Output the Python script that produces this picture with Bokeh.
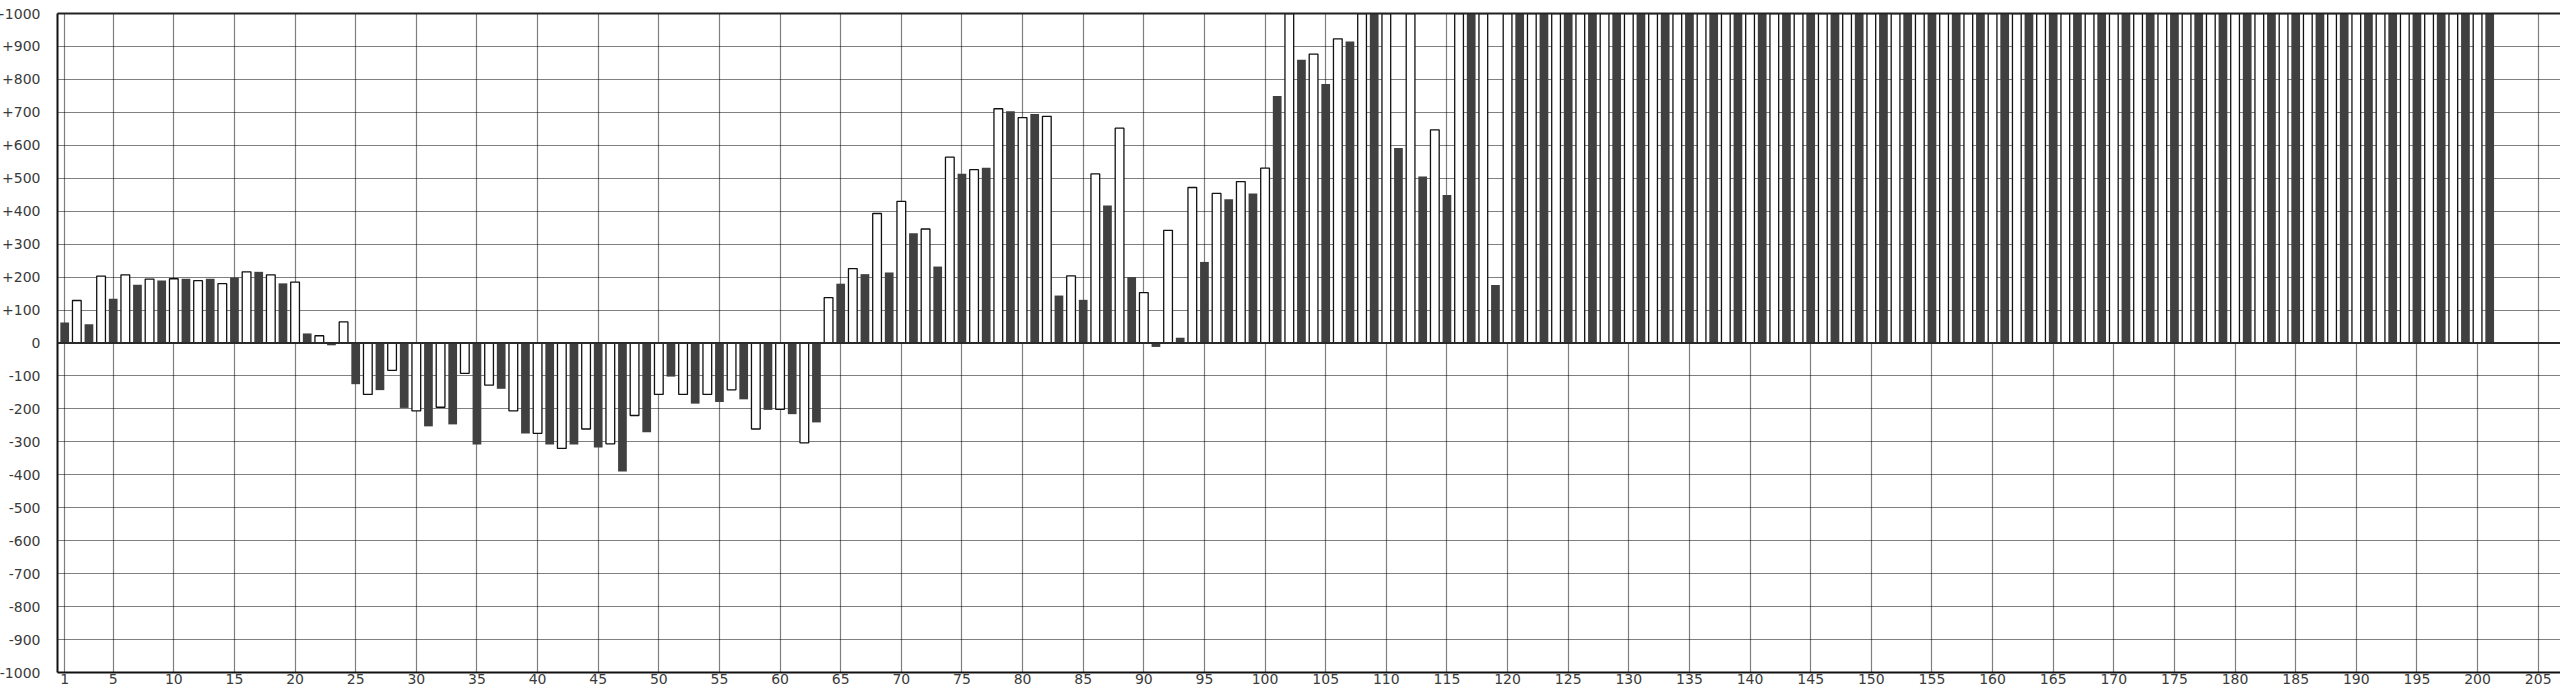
from bokeh.plotting import figure
from bokeh.models import FixedTicker, LinearAxis, Span, Range1d
from bokeh.embed import file_html
from bokeh.resources import INLINE

# dark bars sit on the odd positions 1, 3, ..., 201
dark_x = list(range(1, 202, 2))
dark_vals = [
    62, 57, 134, 177, 190, 195, 195, 199, 216, 181,            # 1..19
    29, -7, -125, -143, -197, -253, -247, -308, -139, -275,    # 21..39
    -308, -308, -317, -390, -271, -102, -184, -179, -171, -203,  # 41..59
    -216, -241, 180, 209, 214, 333, 232, 514, 532, 703,        # 61..79
    695, 144, 131, 417, 200, -12, 16, 246, 436, 454,           # 81..99
    750, 860, 786, 915, 1100, 592, 505, 449, 1100, 176,        # 101..119
    1100, 1100, 1100, 1100, 1100, 1100, 1100, 1100, 1100, 1100,  # 121..139
    1100, 1100, 1100, 1100, 1100, 1100, 1100, 1100, 1100, 1100,  # 141..159
    1100, 1100, 1100, 1100, 1100, 1100, 1100, 1100, 1100, 1100,  # 161..179
    1100, 1100, 1100, 1100, 1100, 1100, 1100, 1100, 1100, 1100,  # 181..199
    1100,                                                        # 201
]

# white (outlined) bars sit on the even positions 2, 4, ..., 200
white_x = list(range(2, 201, 2))
white_vals = [
    129, 203, 207, 194, 195, 189, 180, 216, 207, 185,          # 2..20
    22, 64, -156, -83, -206, -195, -92, -128, -206, -274,      # 22..40
    -320, -261, -306, -220, -156, -156, -156, -142, -261, -201,  # 42..60
    -303, 138, 226, 393, 430, 346, 564, 526, 711, 684,         # 62..80
    688, 204, 513, 652, 153, 342, 472, 454, 490, 531,          # 82..100
    1100, 877, 923, 1100, 1100, 1100, 647, 1100, 1100, 1100,   # 102..120
    1100, 1100, 1100, 1100, 1100, 1100, 1100, 1100, 1100, 1100,  # 122..140
    1100, 1100, 1100, 1100, 1100, 1100, 1100, 1100, 1100, 1100,  # 142..160
    1100, 1100, 1100, 1100, 1100, 1100, 1100, 1100, 1100, 1100,  # 162..180
    1100, 1100, 1100, 1100, 1100, 1100, 1100, 1100, 1100, 1100,  # 182..200
]

x_ticks = [1, 5, 10, 15, 20, 25, 30, 35, 40, 45, 50, 55, 60, 65, 70, 75, 80, 85,
           90, 95, 100, 105, 110, 115, 120, 125, 130, 135, 140, 145, 150, 155,
           160, 165, 170, 175, 180, 185, 190, 195, 200, 205]
y_ticks = [1000, 900, 800, 700, 600, 500, 400, 300, 200, 100, 0,
           -100, -200, -300, -400, -500, -600, -700, -800, -900, -1000]
y_tick_labels = ["+1000", "+900", "+800", "+700", "+600", "+500", "+400", "+300",
                 "+200", "+100", "0", "-100", "-200", "-300", "-400", "-500",
                 "-600", "-700", "-800", "-900", "-1000"]

FONT = "DejaVu Sans"
LABEL_COLOR = "#3a3a3a"

p = figure(width=2571, height=687,
           x_range=Range1d(0.406, 206.84), y_range=Range1d(-1000, 1000),
           output_backend="svg", toolbar_location=None,
           min_border_left=68, min_border_right=0,
           min_border_top=13, min_border_bottom=15)
p.margin = (0, 0, 0, -11)
p.outline_line_color = None
p.background_fill_color = "white"
p.border_fill_color = "white"

# grid
for g, ticks in ((p.xgrid, x_ticks), (p.ygrid, y_ticks)):
    g.ticker = FixedTicker(ticks=ticks)
    g.grid_line_color = "black"
    g.grid_line_alpha = 1.0
    g.grid_line_width = 1.2
    g.grid_line_dash = "1 1"

# axes
p.xaxis.ticker = FixedTicker(ticks=x_ticks)
p.yaxis.ticker = FixedTicker(ticks=y_ticks)
p.yaxis.major_label_overrides = {t: l for t, l in zip(y_ticks, y_tick_labels)}
for ax in (p.xaxis, p.yaxis):
    ax.axis_line_color = "#111111"
    ax.axis_line_width = 2
    ax.major_tick_out = 0
    ax.major_tick_in = 0
    ax.major_tick_line_color = None
    ax.minor_tick_line_color = None
    ax.major_label_text_font = FONT
    ax.major_label_text_font_size = "14px"
    ax.major_label_text_color = LABEL_COLOR
p.yaxis.major_label_standoff = 17
p.xaxis.major_label_standoff = 1

top_axis = LinearAxis(ticker=FixedTicker(ticks=[]), axis_line_color="#222222",
                      axis_line_width=2, major_tick_line_color=None,
                      minor_tick_line_color=None, major_label_text_font_size="0px",
                      major_label_standoff=0)
p.add_layout(top_axis, "above")

# bars
p.vbar(x=dark_x, top=dark_vals, bottom=0, width=0.72,
       fill_color="#404040", line_color=None)
p.vbar(x=white_x, top=white_vals, bottom=0, width=0.72,
       fill_color="white", line_color="#111111", line_width=1.3)

# zero line
p.add_layout(Span(location=0, dimension="width", line_color="#2a2a2a", line_width=2))

open("out.html", "w").write(file_html(p, INLINE))
